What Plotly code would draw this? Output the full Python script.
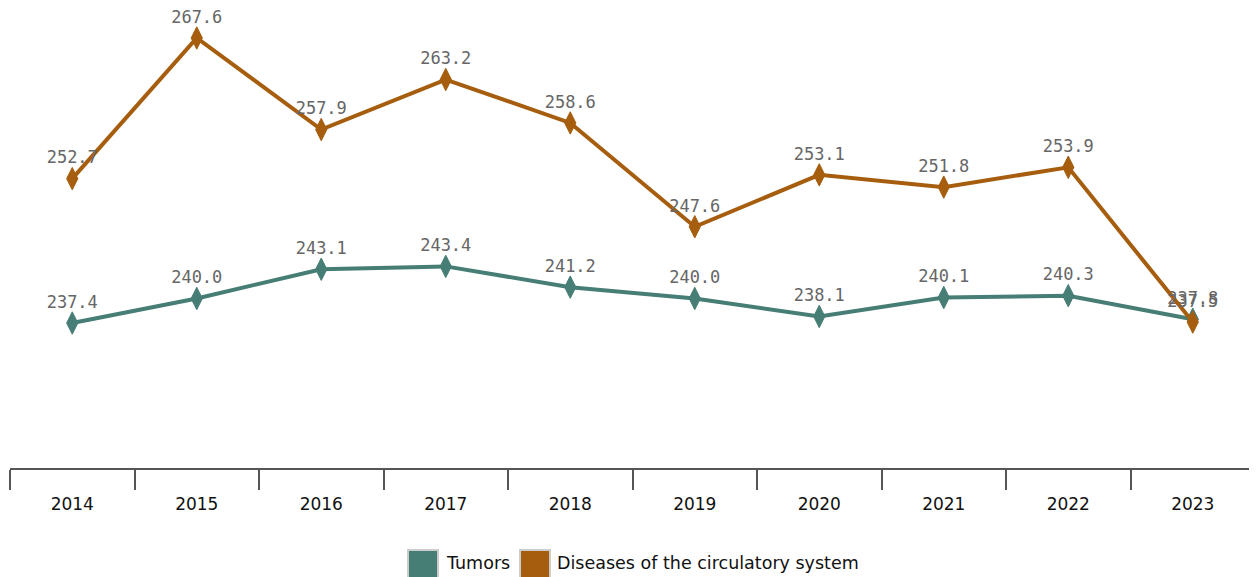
import plotly.graph_objects as go

years = ["2014", "2015", "2016", "2017", "2018", "2019", "2020", "2021", "2022", "2023"]
tumors = [237.4, 240.0, 243.1, 243.4, 241.2, 240.0, 238.1, 240.1, 240.3, 237.8]
circulatory = [252.7, 267.6, 257.9, 263.2, 258.6, 247.6, 253.1, 251.8, 253.9, 237.5]
series_names = ["Tumors", "Diseases of the circulatory system"]

teal = "#467e75"
orange = "#a65e0e"
label_font = dict(family="DejaVu Sans Mono", size=17, color="#666666")

# figure geometry (page body has 8px offset)
W, H = 1249, 569
ML, MR, MT, MB = 2, 2, 20, 109
PW, PH = W - ML - MR, H - MT - MB

fig = go.Figure()
for name, vals, col in [(series_names[0], tumors, teal), (series_names[1], circulatory, orange)]:
    fig.add_trace(go.Scatter(
        x=years, y=vals, mode="lines+markers+text", name=name,
        line=dict(color=col, width=4),
        marker=dict(symbol="diamond-tall", size=16, color=col, line=dict(color=col, width=1)),
        text=[f"{v:.1f}" for v in vals], textposition="top center",
        textfont=label_font, showlegend=False, cliponaxis=False,
    ))

# manual legend (big squares with grey border), positions in page pixels
def px_x(sx):
    return (sx - 8 - ML) / PW

def px_y(sy):
    return (MT + PH - (sy - 8)) / PH

legend_items = [(series_names[0], teal, 407, 444), (series_names[1], orange, 519, 555)]
for name, col, sq_left, txt_left in legend_items:
    fig.add_shape(type="rect", xref="paper", yref="paper",
                  x0=px_x(sq_left + 1), x1=px_x(sq_left + 31),
                  y0=px_y(550), y1=px_y(581),
                  fillcolor=col, line=dict(color="#cccccc", width=2), layer="above")
    fig.add_annotation(xref="paper", yref="paper", x=px_x(txt_left), y=px_y(563),
                       xanchor="left", yanchor="middle", showarrow=False, text=name,
                       font=dict(family="DejaVu Sans", size=17.5, color="#111111"))

fig.update_layout(
    width=W, height=H,
    margin=dict(l=ML, r=MR, t=MT, b=MB),
    plot_bgcolor="white", paper_bgcolor="white",
    font=dict(family="DejaVu Sans", size=17, color="#111111"),
    showlegend=False,
    xaxis=dict(
        type="category", showline=True, linecolor="#555555", linewidth=2,
        ticks="outside", ticklen=20, tickwidth=2, tickcolor="#555555",
        tickson="boundaries", showgrid=False, zeroline=False,
        ticklabelstandoff=20,
        tickfont=dict(family="DejaVu Sans", size=17, color="#111111"),
        range=[-0.5, 9.5],
    ),
    yaxis=dict(visible=False, range=[222.04, 268.66]),
)

fig.write_html("out.html")
